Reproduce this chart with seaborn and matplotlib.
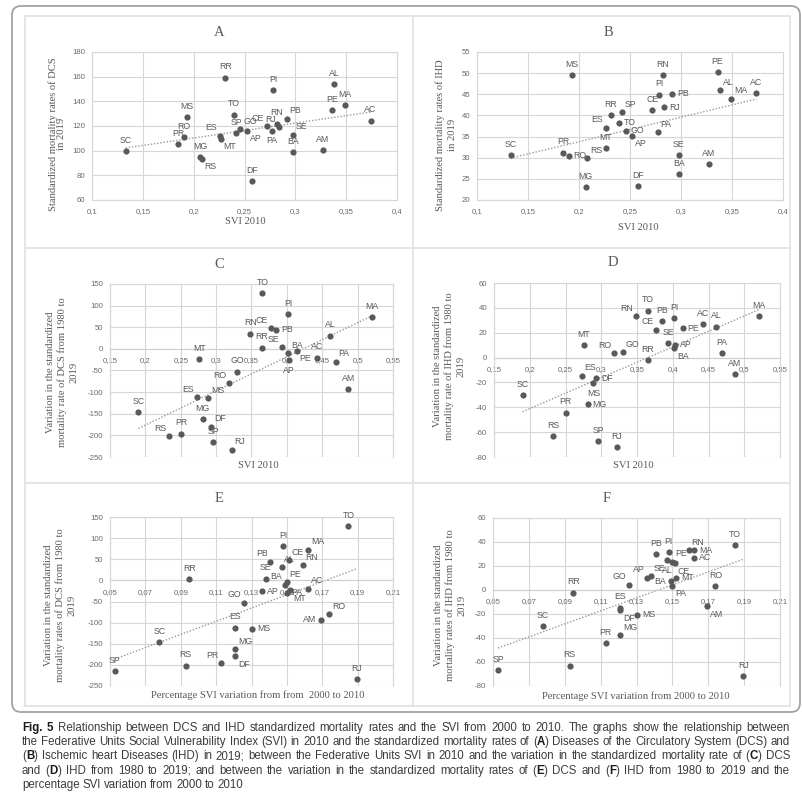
import numpy as np
import pandas as pd
import matplotlib
matplotlib.use("Agg")
import matplotlib.pyplot as plt
import seaborn as sns
from matplotlib.patches import FancyBboxPatch
from matplotlib.ticker import FuncFormatter

# ---------------------------------------------------------------- data
states = ["AC", "AL", "AM", "AP", "BA", "CE", "DF", "ES", "GO", "MA", "MG", "MS", "MT", "PA",
          "PB", "PE", "PI", "PR", "RJ", "RN", "RO", "RR", "RS", "SC", "SE", "SP", "TO"]

# SVI 2010 (panels A, B)
svi_2010 = [0.374, 0.3385, 0.327, 0.2523, 0.298, 0.272, 0.2575, 0.226, 0.246, 0.349, 0.2065, 0.1934,
            0.2265, 0.277, 0.2916, 0.3358, 0.2785, 0.1845, 0.2838, 0.282, 0.190, 0.231, 0.208, 0.133,
            0.298, 0.242, 0.2395]
# SVI 2010 (panels C, D)
svi_2010_cd = [0.443, 0.461, 0.487, 0.403, 0.402, 0.377, 0.293, 0.273, 0.330, 0.520, 0.281, 0.289,
               0.276, 0.469, 0.385, 0.414, 0.402, 0.2505, 0.322, 0.3485, 0.318, 0.365, 0.233, 0.190,
               0.3935, 0.296, 0.3655]
# Percentage SVI variation 2000-2010 (panels E, F)
svi_change = [0.162, 0.147, 0.1695, 0.136, 0.149, 0.1513, 0.1208, 0.1208, 0.1257, 0.162, 0.1208,
              0.1304, 0.152, 0.150, 0.1407, 0.150, 0.148, 0.1128, 0.1895, 0.159, 0.174, 0.0948,
              0.0927, 0.0779, 0.138, 0.0528, 0.1848]

# Standardized mortality rates in 2019
dcs_2019 = [124.4, 153.8, 100.2, 116, 98.8, 120, 75.1, 112, 117.5, 137.1, 94.8, 127, 109.6, 116,
            126, 132.8, 149.3, 105.3, 119, 122, 111, 159.2, 93.4, 99.6, 112.8, 114, 129.3]
ihd_2019 = [45.2, 46.0, 28.5, 35.2, 26.1, 41.2, 23.3, 37.1, 36.4, 44.0, 23.1, 49.5, 32.2, 36.0,
            45.1, 50.2, 44.9, 31.2, 41.9, 49.5, 30.5, 40.1, 29.9, 30.7, 30.6, 40.8, 38.3]
# Variation in the standardized mortality rates, 1980-2019
dcs_change = [-20, 30.9, -93, -25.6, -10, 48, -180, -112, -52.7, 72.6, -163, -114.6, -23.3, -29.5,
              44, -4.7, 81, -196, -233, 35.5, -79.8, 3, -202, -145.6, 3.9, -215, 129]
ihd_change = [26.9, 25, -13.5, 10.2, 7.5, 22.3, -16.7, -14.6, 4.3, 33.1, -37.7, -20.8, 10.2, 3.5,
              29.6, 23.7, 31.7, -44.2, -71.9, 33.1, 3.5, -2.2, -63, -30.2, 11.5, -67, 37.7]

xticks_ab = [0.1, 0.15, 0.2, 0.25, 0.3, 0.35, 0.4]
xticks_cd = [0.15, 0.2, 0.25, 0.3, 0.35, 0.4, 0.45, 0.5, 0.55]
xticks_ef = [0.05, 0.07, 0.09, 0.11, 0.13, 0.15, 0.17, 0.19, 0.21]
yticks_a = [60, 80, 100, 120, 140, 160, 180]
yticks_b = [20, 25, 30, 35, 40, 45, 50, 55]
yticks_dcs = [-250, -200, -150, -100, -50, 0, 50, 100, 150]
yticks_ihd = [-80, -60, -40, -20, 0, 20, 40, 60]

titles = ["A", "B", "C", "D", "E", "F"]
xlabels = ["SVI 2010", "SVI 2010", "SVI 2010", "SVI 2010",
           "Percentage SVI variation from from  2000 to 2010",
           "Percentage SVI variation from 2000 to 2010"]
ylabels = ["Standardized mortality rates of DCS\nin 2019",
           "Standardized mortality rates of IHD\nin 2019",
           "Variation in the standardized\nmortality rate of DCS from 1980 to\n2019",
           "Variation in the standardized\nmortality rate of IHD from 1980 to\n2019",
           "Variation in the standardized\nmortality rates of DCS from 1980 to\n2019",
           "Variation in the standardized\nmortality rates of IHD from 1980 to\n2019"]

caption = [
    "*Fig.* *5*  Relationship between DCS and IHD standardized mortality rates and the SVI from 2000 to 2010. The graphs show the relationship between",
    "the Federative Units Social Vulnerability Index (SVI) in 2010 and the standardized mortality rates of (*A*) Diseases of the Circulatory System (DCS) and",
    "(*B*) Ischemic heart Diseases (IHD) in 2019; between the Federative Units SVI in 2010 and the variation in the standardized mortality rate of (*C*) DCS",
    "and (*D*) IHD from 1980 to 2019; and between the variation in the standardized mortality rates of (*E*) DCS and (*F*) IHD from 1980 to 2019 and the",
    "percentage SVI variation from 2000 to 2010",
]

# ---------------------------------------------------------------- style
W = H = 802
DOT = "#595959"
GRID = "#d6d6d6"
TXT = "#595959"
TICK = "#6a6a6a"
SERIF = ["Liberation Serif", "DejaVu Serif"]
SANS = ["Liberation Sans", "DejaVu Sans"]

sns.set_style("white")
plt.rcParams["font.family"] = SANS
plt.rcParams["axes.unicode_minus"] = False

# label placement codes: offset (pt), ha, va
OFF = {"a": (0, 4.5, "center", "bottom"), "b": (0, -4, "center", "top"),
       "r": (3.5, 0, "left", "center"), "l": (-3.5, 0, "right", "center"),
       "ar": (2, 2.5, "left", "bottom"), "al": (-2, 2.5, "right", "bottom"),
       "br": (2, -2.5, "left", "top"), "bl": (-2, -2.5, "right", "top")}

panels = [
    dict(x=svi_2010, y=dcs_2019, box=(92, 52, 397, 200), xlim=(0.1, 0.4), ylim=(60, 180),
         xt=xticks_ab, yt=yticks_a, cross=False, title=(219, 33), xl=(245, 221), yl=(57, 134), ls=0.85,
         place={"PA": "b", "MT": "br", "RS": "br", "AP": "br", "SE": "ar", "PB": "ar", "ES": "al",
                "RJ": "al", "CE": "al", "GO": "ar"}),
    dict(x=svi_2010, y=ihd_2019, box=(477, 52, 783, 200), xlim=(0.1, 0.4), ylim=(20, 55),
         xt=xticks_ab, yt=yticks_b, cross=False, title=(608, 33), xl=(638, 227), yl=(446, 135), ls=1.5,
         place={"RO": "r", "RS": "ar", "SP": "ar", "TO": "r", "GO": "r", "AP": "br", "PA": "ar",
                "RJ": "r", "PB": "r", "AL": "ar", "MA": "ar", "ES": "al"}),
    dict(x=svi_2010_cd, y=dcs_change, box=(110, 284, 393, 457), xlim=(0.15, 0.55), ylim=(-250, 150),
         xt=xticks_cd, yt=yticks_dcs, cross=True, title=(219, 265), xl=(258, 465), yl=(62, 372), ls=1.3,
         place={"PB": "r", "SE": "al", "BA": "ar", "AP": "b", "PE": "br", "PA": "ar", "DF": "ar",
                "MS": "ar", "RO": "al", "RJ": "ar", "ES": "al", "RS": "al", "CE": "al"}),
    dict(x=svi_2010_cd, y=ihd_change, box=(494, 283, 780, 457), xlim=(0.15, 0.55), ylim=(-80, 60),
         xt=xticks_cd, yt=yticks_ihd, cross=True, title=(613, 263), xl=(633, 465), yl=(449, 366), ls=1.3,
         place={"ES": "ar", "MS": "b", "MG": "r", "DF": "r", "RO": "al", "GO": "ar", "AP": "r",
                "BA": "br", "PE": "r", "RN": "al", "CE": "al"}),
    dict(x=svi_change, y=dcs_change, box=(110, 517, 393, 686), xlim=(0.05, 0.21), ylim=(-250, 150),
         xt=xticks_ef, yt=yticks_dcs, cross=True, title=(219, 498), xl=(258, 695), yl=(60, 605), ls=1.3,
         place={"PR": "al", "DF": "br", "MG": "ar", "MS": "r", "AP": "r", "PB": "al", "AL": "ar",
                "BA": "al", "PE": "ar", "PA": "r", "CE": "ar", "MA": "ar", "RN": "ar", "AC": "ar",
                "AM": "l", "RO": "ar", "MT": "br", "GO": "al"}),
    dict(x=svi_change, y=ihd_change, box=(493, 518, 780, 686), xlim=(0.05, 0.21), ylim=(-80, 60),
         xt=xticks_ef, yt=yticks_ihd, cross=True, title=(607, 498), xl=(636, 696), yl=(450, 605), ls=1.3,
         place={"MG": "ar", "DF": "br", "MS": "r", "GO": "al", "AP": "al", "SE": "ar", "RN": "ar",
                "MA": "r", "AC": "r", "CE": "br", "PE": "ar", "AL": "b", "BA": "l", "MT": "r",
                "PA": "br", "AM": "br"}),
]

fig = plt.figure(figsize=(W / 100, H / 100), dpi=100, facecolor="white")

# background layer in pixel coordinates: frame, titles, axis titles, caption
bg = fig.add_axes([0, 0, 1, 1], zorder=0)
bg.set_xlim(0, W)
bg.set_ylim(H, 0)
bg.axis("off")

bg.add_patch(FancyBboxPatch((12, 6), 788, 706, boxstyle="round,pad=0,rounding_size=9",
                            fc="none", ec="#a3a3a3", lw=1.3))
for seg in [((25, 790), (16, 16)), ((25, 25), (16, 706)), ((790, 790), (16, 706)),
            ((25, 790), (706, 706)), ((413, 413), (16, 706)),
            ((25, 790), (248, 248)), ((25, 790), (483, 483))]:
    bg.plot(*seg, color="#e3e3e3", lw=1.3)

xfmt = FuncFormatter(lambda v, p: f"{v:g}".replace(".", ","))
yfmt = FuncFormatter(lambda v, p: f"{v:g}")

for i, pnl in enumerate(panels):
    x0, y0, x1, y1 = pnl["box"]
    ax = fig.add_axes([x0 / W, 1 - y1 / H, (x1 - x0) / W, (y1 - y0) / H], zorder=2)
    ax.set_facecolor("none")
    df = pd.DataFrame({"state": states, "x": pnl["x"], "y": pnl["y"]})

    sns.regplot(data=df, x="x", y="y", ax=ax, scatter=False, ci=None, truncate=True,
                line_kws=dict(color="#9a9a9a", lw=1.0, ls=(0, (1, 1.3)), zorder=2))
    sns.scatterplot(data=df, x="x", y="y", ax=ax, color=DOT, s=20, linewidth=0, zorder=3,
                    legend=False)

    for code, xv, yv in zip(df["state"], df["x"], df["y"]):
        dx, dy, ha, va = OFF[pnl["place"].get(code, "a")]
        ax.annotate(code, (xv, yv), xytext=(dx, dy), textcoords="offset points", ha=ha, va=va,
                    fontsize=6.3, color=TXT, family=SANS, zorder=4)

    ax.set_xlim(*pnl["xlim"])
    ax.set_ylim(*pnl["ylim"])
    ax.set_xticks(pnl["xt"])
    ax.set_yticks(pnl["yt"])
    ax.xaxis.set_major_formatter(xfmt)
    ax.yaxis.set_major_formatter(yfmt)
    ax.set_xlabel("")
    ax.set_ylabel("")
    ax.grid(True, color=GRID, lw=0.8)
    ax.set_axisbelow(True)
    for s in ax.spines.values():
        s.set_color(GRID)
        s.set_linewidth(0.8)
    if pnl["cross"]:
        ax.spines["bottom"].set_position(("data", 0))
        ax.spines["bottom"].set_color("#cfcfcf")
    ax.tick_params(length=0, labelsize=5.6, labelcolor=TICK)
    ax.tick_params(axis="x", pad=6)
    ax.tick_params(axis="y", pad=5)

    bg.text(*pnl["title"], titles[i], fontsize=10.5, color=TXT, family=SERIF,
            ha="center", va="center")
    bg.text(*pnl["xl"], xlabels[i], fontsize=7.6, color=TXT, family=SERIF,
            ha="center", va="center")
    bg.text(*pnl["yl"], ylabels[i], fontsize=7.6, color=TXT, family=SERIF, rotation=90,
            ha="center", va="center", multialignment="center", linespacing=pnl["ls"])

# caption, justified between the frame margins
renderer = fig.canvas.get_renderer()
CAP_X0, CAP_X1 = 22, 790
CAP_SIZE = 8.3
for li, line in enumerate(caption):
    y = 728 + li * 14.2
    words = []
    for w in line.split(" "):
        if w == "":
            continue
        pieces = []
        for k, part in enumerate(w.split("*")):
            if part:
                bold = k % 2 == 1
                t = bg.text(0, y, part, fontsize=CAP_SIZE, family=SANS,
                            fontweight="bold" if bold else "normal",
                            color="#1a1a1a" if bold else "#3c3c3c", ha="left", va="center")
                pieces.append(t)
        words.append(pieces)
    widths = [[t.get_window_extent(renderer).width for t in pcs] for pcs in words]
    total = sum(sum(ws) for ws in widths)
    natural = CAP_SIZE * 100 / 72 * 0.25
    last = li == len(caption) - 1
    gap = natural if last else (CAP_X1 - CAP_X0 - total) / (len(words) - 1)
    xpos = CAP_X0
    for pcs, ws in zip(words, widths):
        for t, wpx in zip(pcs, ws):
            t.set_x(xpos)
            xpos += wpx
        xpos += gap

fig.savefig("out.png", dpi=100, facecolor="white")
